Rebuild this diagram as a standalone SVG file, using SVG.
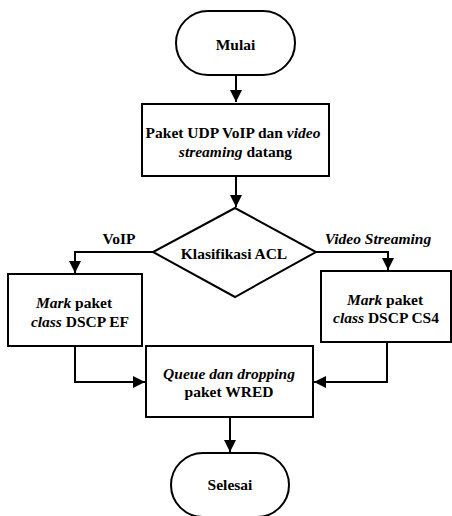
<svg xmlns="http://www.w3.org/2000/svg" width="452" height="516" viewBox="0 0 452 516">
  <defs>
    <marker id="arrow" viewBox="0 0 12 12" refX="12" refY="6" markerWidth="12" markerHeight="12" markerUnits="userSpaceOnUse" orient="auto">
      <path d="M0,0 L12,6 L0,12 z" fill="#000"/>
    </marker>
    <style>
      .shape { fill: #fff; stroke: #000; stroke-width: 2; }
      .edge { fill: none; stroke: #000; stroke-width: 2; marker-end: url(#arrow); }
      text { font-family: "Liberation Serif", "Times New Roman", serif; font-size: 15.5px; font-weight: bold; fill: #000; text-anchor: middle; dominant-baseline: central; }
      .it { font-style: italic; }
    </style>
  </defs>
  <rect width="452" height="516" fill="#fff"/>

  <g id="connectors">
    <path class="edge" d="M236,75 V102"/>
    <path class="edge" d="M236,176 V207"/>
    <path class="edge" d="M153,252 H75 V273"/>
    <path class="edge" d="M316,252 H388 V270"/>
    <path class="edge" d="M75,346 V382 H145"/>
    <path class="edge" d="M387,342 V382 H314"/>
    <path class="edge" d="M230,417 V452"/>
  </g>

  <g id="start">
    <rect class="shape" x="176" y="11" width="119" height="64" rx="32" ry="32"/>
    <text x="235.5" y="44">Mulai</text>
  </g>

  <g id="receive">
    <rect class="shape" x="142" y="104" width="187" height="72"/>
    <text x="233" y="132">Paket UDP VoIP dan <tspan class="it">video</tspan></text>
    <text x="235.5" y="151"><tspan class="it">streaming</tspan> datang</text>
  </g>

  <g id="classify">
    <polygon class="shape" points="235,208 316,252 235,297 153,252"/>
    <text x="234" y="253">Klasifikasi ACL</text>
  </g>

  <g id="label-voip">
    <text x="119" y="238">VoIP</text>
  </g>
  <g id="label-video">
    <text class="it" x="378" y="238">Video Streaming</text>
  </g>

  <g id="mark-ef">
    <rect class="shape" x="8" y="274" width="134" height="72"/>
    <text x="74" y="302"><tspan class="it">Mark</tspan> paket</text>
    <text x="80" y="321"><tspan class="it">class</tspan> DSCP EF</text>
  </g>

  <g id="mark-cs4">
    <rect class="shape" x="321" y="271" width="130" height="71"/>
    <text x="385" y="299"><tspan class="it">Mark</tspan> paket</text>
    <text x="386" y="317"><tspan class="it">class</tspan> DSCP CS4</text>
  </g>

  <g id="wred">
    <rect class="shape" x="146" y="346" width="167" height="71"/>
    <text class="it" x="229" y="373">Queue dan dropping</text>
    <text x="229" y="391">paket WRED</text>
  </g>

  <g id="end">
    <rect class="shape" x="171" y="453" width="118" height="64" rx="32" ry="32"/>
    <text x="230" y="484">Selesai</text>
  </g>
</svg>
